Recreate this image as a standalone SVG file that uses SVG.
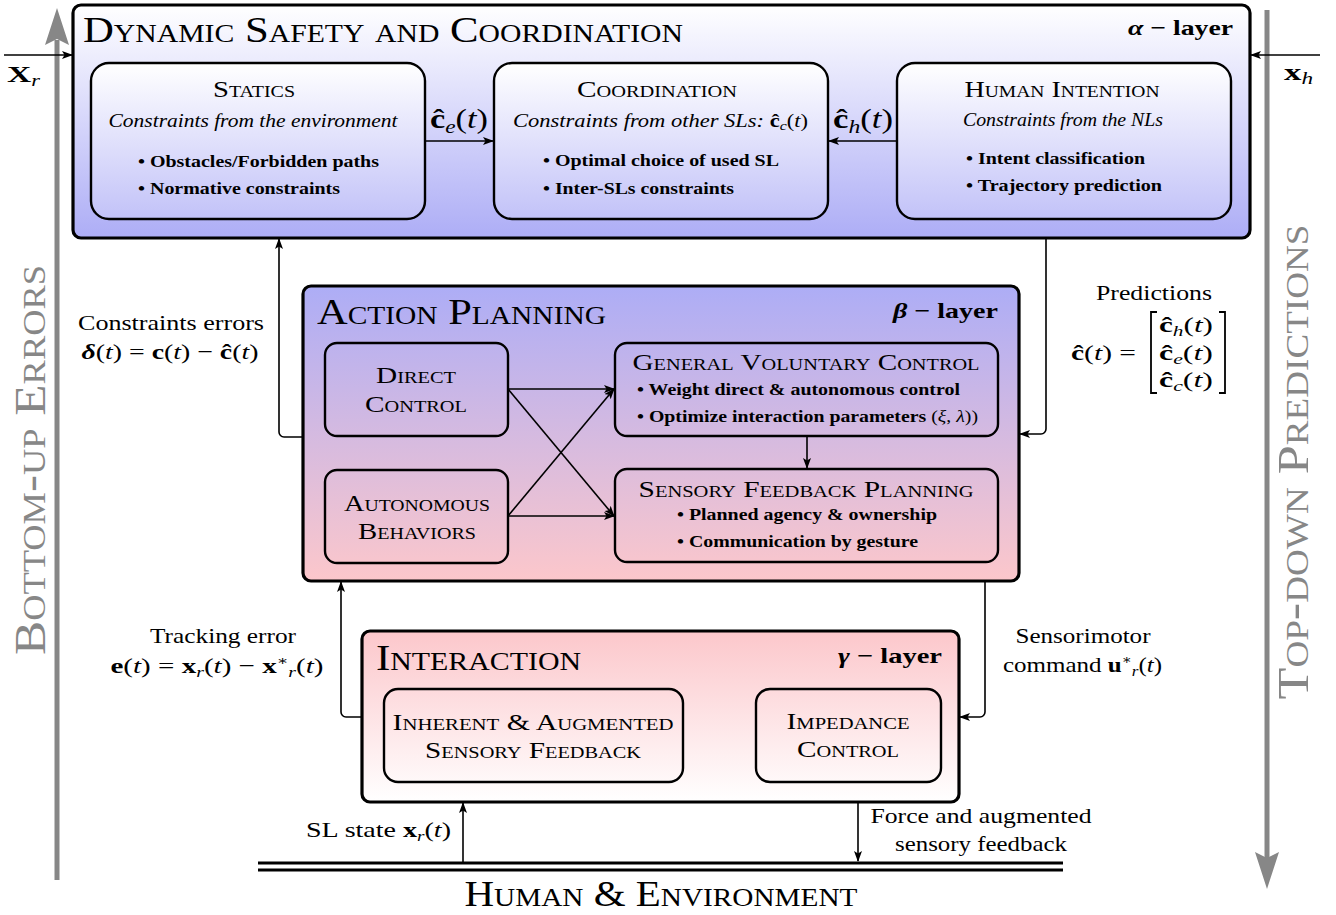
<svg xmlns="http://www.w3.org/2000/svg" width="1336" height="915" viewBox="0 0 1336 915">
<defs>
<linearGradient id="gA" x1="0" y1="0" x2="0" y2="1"><stop offset="0" stop-color="#ffffff"/><stop offset="1" stop-color="#adadf6"/></linearGradient>
<linearGradient id="gAi" x1="0" y1="0" x2="0" y2="1"><stop offset="0" stop-color="#ffffff"/><stop offset="1" stop-color="#c2c2f8"/></linearGradient>
<linearGradient id="gB" x1="0" y1="0" x2="0" y2="1"><stop offset="0" stop-color="#adadf6"/><stop offset="1" stop-color="#fcc7cb"/></linearGradient>
<linearGradient id="gC" x1="0" y1="0" x2="0" y2="1"><stop offset="0" stop-color="#fcc7cb"/><stop offset="1" stop-color="#ffffff"/></linearGradient>
<marker id="ah" markerWidth="12" markerHeight="10" refX="10" refY="4" orient="auto" markerUnits="userSpaceOnUse"><path d="M0,0 L11,4 L0,8 L2.5,4 Z" fill="#000"/></marker>
</defs>
<style>
text{font-family:"Liberation Serif","DejaVu Serif",serif;fill:#000}
.sc{font-variant:small-caps}
.ttl{font-size:36px;font-variant:small-caps}
.sub{font-size:23px;font-variant:small-caps}
.it{font-style:italic}
.b{font-weight:bold}
.bl{font-size:16.5px;font-weight:bold}
.lbl{font-size:22px}
.side{font-size:45px;font-variant:small-caps;fill:#878787}
.outer{stroke:#000;stroke-width:3.2}
.inner{stroke:#000;stroke-width:2.4}
.con{fill:none;stroke:#000;stroke-width:1.6;marker-end:url(#ah)}
.gray{fill:#878787}
</style>

<g id="side-arrows">
<rect x="54.5" y="40" width="5" height="840" class="gray"/>
<path d="M57,8 L69,45 L57,39 L45,45 Z" class="gray"/>
<rect x="1264.5" y="10" width="5" height="850" class="gray"/>
<path d="M1267,889 L1279,852 L1267,858 L1255,852 Z" class="gray"/>
<text transform="translate(45,460) rotate(-90)" text-anchor="middle" class="side" textLength="390" lengthAdjust="spacingAndGlyphs">Bottom-up Errors</text>
<text transform="translate(1308,462) rotate(-90)" text-anchor="middle" class="side" textLength="475" lengthAdjust="spacingAndGlyphs">Top-down Predictions</text>
</g>

<g id="alpha-layer">
<rect x="73" y="5" width="1177" height="233" rx="8" fill="url(#gA)" class="outer"/>
<text x="83" y="42" class="ttl" textLength="600" lengthAdjust="spacingAndGlyphs">Dynamic Safety and Coordination</text>
<text x="1233" y="35" text-anchor="end" font-size="22" class="b" textLength="105" lengthAdjust="spacingAndGlyphs"><tspan class="it">α</tspan> − layer</text>
</g>

<g id="statics">
<rect x="91" y="63" width="334" height="156" rx="18" fill="url(#gAi)" class="inner"/>
<text x="254" y="97" text-anchor="middle" class="sub" textLength="82" lengthAdjust="spacingAndGlyphs">Statics</text>
<text x="253" y="127" text-anchor="middle" font-size="18.5" class="it" textLength="289" lengthAdjust="spacingAndGlyphs">Constraints from the environment</text>
<text x="138" y="167" class="bl" textLength="241" lengthAdjust="spacingAndGlyphs">• Obstacles/Forbidden paths</text>
<text x="138" y="194" class="bl" textLength="202" lengthAdjust="spacingAndGlyphs">• Normative constraints</text>
</g>

<g id="coordination">
<rect x="494" y="63" width="334" height="156" rx="18" fill="url(#gAi)" class="inner"/>
<text x="657" y="97" text-anchor="middle" class="sub" textLength="160" lengthAdjust="spacingAndGlyphs">Coordination</text>
<text x="513" y="127" font-size="18.5" textLength="295" lengthAdjust="spacingAndGlyphs"><tspan class="it">Constraints from other SLs: </tspan><tspan class="b">ĉ</tspan><tspan class="it" font-size="13" dy="3">c</tspan><tspan dy="-3">(</tspan><tspan class="it">t</tspan>)</text>
<text x="543" y="166" class="bl" textLength="236" lengthAdjust="spacingAndGlyphs">• Optimal choice of used SL</text>
<text x="543" y="194" class="bl" textLength="191" lengthAdjust="spacingAndGlyphs">• Inter-SLs constraints</text>
</g>

<g id="human-intention">
<rect x="897" y="63" width="334" height="156" rx="18" fill="url(#gAi)" class="inner"/>
<text x="1062" y="97" text-anchor="middle" class="sub" textLength="195" lengthAdjust="spacingAndGlyphs">Human Intention</text>
<text x="1063" y="126" text-anchor="middle" font-size="18.5" class="it" textLength="200" lengthAdjust="spacingAndGlyphs">Constraints from the NLs</text>
<text x="966" y="164" class="bl" textLength="179" lengthAdjust="spacingAndGlyphs">• Intent classification</text>
<text x="966" y="191" class="bl" textLength="196" lengthAdjust="spacingAndGlyphs">• Trajectory prediction</text>
</g>

<g id="beta-layer">
<rect x="303" y="286" width="716" height="295" rx="8" fill="url(#gB)" class="outer"/>
<text x="317" y="324" class="ttl" textLength="289" lengthAdjust="spacingAndGlyphs">Action Planning</text>
<text x="998" y="318" text-anchor="end" font-size="22" class="b" textLength="105" lengthAdjust="spacingAndGlyphs"><tspan class="it">β</tspan> − layer</text>
</g>

<g id="direct-control">
<rect x="325" y="343" width="183" height="93" rx="12" fill="none" class="inner"/>
<text x="416" y="383" text-anchor="middle" class="sub" textLength="80" lengthAdjust="spacingAndGlyphs">Direct</text>
<text x="416" y="412" text-anchor="middle" class="sub" textLength="102" lengthAdjust="spacingAndGlyphs">Control</text>
</g>

<g id="autonomous-behaviors">
<rect x="325" y="470" width="183" height="93" rx="12" fill="none" class="inner"/>
<text x="417" y="511" text-anchor="middle" class="sub" textLength="146" lengthAdjust="spacingAndGlyphs">Autonomous</text>
<text x="417" y="539" text-anchor="middle" class="sub" textLength="118" lengthAdjust="spacingAndGlyphs">Behaviors</text>
</g>

<g id="general-voluntary-control">
<rect x="615" y="343" width="383" height="93" rx="12" fill="none" class="inner"/>
<text x="806" y="370" text-anchor="middle" class="sub" textLength="347" lengthAdjust="spacingAndGlyphs">General Voluntary Control</text>
<text x="637" y="395" class="bl" textLength="323" lengthAdjust="spacingAndGlyphs">• Weight direct &amp; autonomous control</text>
<text x="637" y="422" class="bl" textLength="341" lengthAdjust="spacingAndGlyphs">• Optimize interaction parameters <tspan font-weight="normal">(<tspan class="it">ξ</tspan>, <tspan class="it">λ</tspan>))</tspan></text>
</g>

<g id="sensory-feedback-planning">
<rect x="615" y="469" width="383" height="93" rx="12" fill="none" class="inner"/>
<text x="806" y="497" text-anchor="middle" class="sub" textLength="335" lengthAdjust="spacingAndGlyphs">Sensory Feedback Planning</text>
<text x="677" y="520" class="bl" textLength="260" lengthAdjust="spacingAndGlyphs">• Planned agency &amp; ownership</text>
<text x="677" y="547" class="bl" textLength="241" lengthAdjust="spacingAndGlyphs">• Communication by gesture</text>
</g>

<g id="gamma-layer">
<rect x="362" y="631" width="597" height="171" rx="8" fill="url(#gC)" class="outer"/>
<text x="376" y="670" class="ttl" textLength="205" lengthAdjust="spacingAndGlyphs">Interaction</text>
<text x="942" y="663" text-anchor="end" font-size="22" class="b" textLength="104" lengthAdjust="spacingAndGlyphs"><tspan class="it">γ</tspan> − layer</text>
</g>

<g id="inherent-augmented">
<rect x="384" y="689" width="299" height="93" rx="14" fill="none" class="inner"/>
<text x="533" y="730" text-anchor="middle" class="sub" textLength="281" lengthAdjust="spacingAndGlyphs">Inherent &amp; Augmented</text>
<text x="533" y="758" text-anchor="middle" class="sub" textLength="216" lengthAdjust="spacingAndGlyphs">Sensory Feedback</text>
</g>

<g id="impedance-control">
<rect x="756" y="689" width="185" height="93" rx="14" fill="none" class="inner"/>
<text x="848" y="729" text-anchor="middle" class="sub" textLength="123" lengthAdjust="spacingAndGlyphs">Impedance</text>
<text x="848" y="757" text-anchor="middle" class="sub" textLength="102" lengthAdjust="spacingAndGlyphs">Control</text>
</g>

<g id="human-environment">
<path d="M258,863 H1063 M258,870 H1063" stroke="#000" stroke-width="3" fill="none"/>
<text x="661" y="906" text-anchor="middle" font-size="35" class="sc" textLength="393" lengthAdjust="spacingAndGlyphs">Human &amp; Environment</text>
</g>

<g id="connectors">
<path d="M4,55 H72" class="con"/>
<path d="M1320,55 H1251" class="con"/>
<path d="M425,141 H493" class="con"/>
<path d="M897,141 H829" class="con"/>
<path d="M303,437 H284 A5,5 0 0 1 279,432 V239" class="con"/>
<path d="M1046,238 V429 A5,5 0 0 1 1041,434 H1020" class="con"/>
<path d="M508,389 H614" class="con"/>
<path d="M508,389 L614,516" class="con"/>
<path d="M508,516 L614,389" class="con"/>
<path d="M508,516 H614" class="con"/>
<path d="M807,436 V468" class="con"/>
<path d="M362,717 H346 A5,5 0 0 1 341,712 V582" class="con"/>
<path d="M985,581 V712 A5,5 0 0 1 980,717 H960" class="con"/>
<path d="M463,862 V803" class="con"/>
<path d="M858,803 V861" class="con"/>
</g>

<g id="labels">
<text x="7" y="82" font-size="24" textLength="33" lengthAdjust="spacingAndGlyphs"><tspan class="b">X</tspan><tspan class="it" font-size="16" dy="4">r</tspan></text>
<text x="1284" y="80" font-size="24" textLength="29" lengthAdjust="spacingAndGlyphs"><tspan class="b">x</tspan><tspan class="it" font-size="16" dy="4">h</tspan></text>
<text x="430" y="128" font-size="28" textLength="58" lengthAdjust="spacingAndGlyphs"><tspan class="b">ĉ</tspan><tspan class="it" font-size="19" dy="5">e</tspan><tspan dy="-5">(</tspan><tspan class="it">t</tspan>)</text>
<text x="833" y="128" font-size="28" textLength="60" lengthAdjust="spacingAndGlyphs"><tspan class="b">ĉ</tspan><tspan class="it" font-size="19" dy="5">h</tspan><tspan dy="-5">(</tspan><tspan class="it">t</tspan>)</text>

<text x="171" y="330" text-anchor="middle" class="lbl" textLength="186" lengthAdjust="spacingAndGlyphs">Constraints errors</text>
<text x="170" y="359" text-anchor="middle" class="lbl" textLength="177" lengthAdjust="spacingAndGlyphs"><tspan class="b it">δ</tspan>(<tspan class="it">t</tspan>) = <tspan class="b">c</tspan>(<tspan class="it">t</tspan>) − <tspan class="b">ĉ</tspan>(<tspan class="it">t</tspan>)</text>

<text x="1154" y="300" text-anchor="middle" class="lbl" textLength="116" lengthAdjust="spacingAndGlyphs">Predictions</text>
<text x="1071" y="360" class="lbl" textLength="65" lengthAdjust="spacingAndGlyphs"><tspan class="b">ĉ</tspan>(<tspan class="it">t</tspan>) =</text>
<path d="M1157,312 H1151 V393 H1157 M1219,312 H1225 V393 H1219" stroke="#000" stroke-width="1.8" fill="none"/>
<text x="1159" y="332" class="lbl" textLength="54" lengthAdjust="spacingAndGlyphs"><tspan class="b">ĉ</tspan><tspan class="it" font-size="15" dy="4">h</tspan><tspan dy="-4">(</tspan><tspan class="it">t</tspan>)</text>
<text x="1159" y="360" class="lbl" textLength="54" lengthAdjust="spacingAndGlyphs"><tspan class="b">ĉ</tspan><tspan class="it" font-size="15" dy="4">e</tspan><tspan dy="-4">(</tspan><tspan class="it">t</tspan>)</text>
<text x="1159" y="387" class="lbl" textLength="54" lengthAdjust="spacingAndGlyphs"><tspan class="b">ĉ</tspan><tspan class="it" font-size="15" dy="4">c</tspan><tspan dy="-4">(</tspan><tspan class="it">t</tspan>)</text>

<text x="223" y="643" text-anchor="middle" class="lbl" textLength="146" lengthAdjust="spacingAndGlyphs">Tracking error</text>
<text x="217" y="673" text-anchor="middle" class="lbl" textLength="213" lengthAdjust="spacingAndGlyphs"><tspan class="b">e</tspan>(<tspan class="it">t</tspan>) = <tspan class="b">x</tspan><tspan class="it" font-size="15" dy="4">r</tspan><tspan dy="-4">(</tspan><tspan class="it">t</tspan>) − <tspan class="b">x</tspan><tspan font-size="13" dy="-8">∗</tspan><tspan class="it" font-size="15" dy="12">r</tspan><tspan dy="-4">(</tspan><tspan class="it">t</tspan>)</text>

<text x="1083" y="643" text-anchor="middle" class="lbl" textLength="135" lengthAdjust="spacingAndGlyphs">Sensorimotor</text>
<text x="1003" y="672" class="lbl" textLength="159" lengthAdjust="spacingAndGlyphs">command <tspan class="b">u</tspan><tspan font-size="13" dy="-8">∗</tspan><tspan class="it" font-size="15" dy="12">r</tspan><tspan dy="-4">(</tspan><tspan class="it">t</tspan>)</text>

<text x="451" y="837" text-anchor="end" class="lbl" textLength="145" lengthAdjust="spacingAndGlyphs">SL state <tspan class="b">x</tspan><tspan class="it" font-size="15" dy="4">r</tspan><tspan dy="-4">(</tspan><tspan class="it">t</tspan>)</text>
<text x="981" y="823" text-anchor="middle" class="lbl" textLength="221" lengthAdjust="spacingAndGlyphs">Force and augmented</text>
<text x="981" y="851" text-anchor="middle" class="lbl" textLength="172" lengthAdjust="spacingAndGlyphs">sensory feedback</text>
</g>
</svg>
